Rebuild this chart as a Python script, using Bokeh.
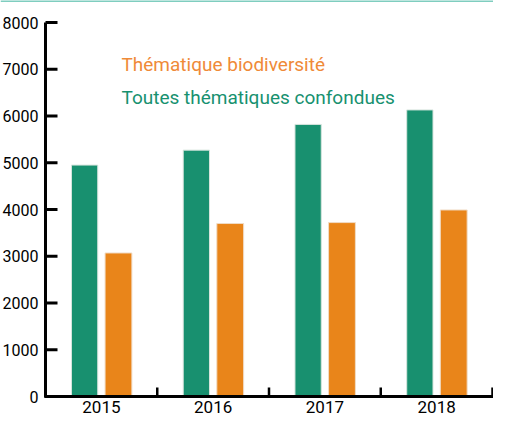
import numpy as np
from bokeh.plotting import figure
from bokeh.models import ColumnDataSource, Range1d, Label, Span
from bokeh.core.properties import value
from bokeh.embed import file_html
from bokeh.resources import INLINE

# ---- data ----
years = ["2015", "2016", "2017", "2018"]
toutes = [4950, 5270, 5820, 6130]      # Toutes thématiques confondues
biodiv = [3070, 3700, 3720, 3990]      # Thématique biodiversité
y_ticks = [0, 1000, 2000, 3000, 4000, 5000, 6000, 7000, 8000]
y_tick_labels = [str(v) for v in y_ticks]
legend_labels = ["Thématique biodiversité", "Toutes thématiques confondues"]

# ---- style ----
GREEN = "#18906f"
ORANGE = "#e9851a"
LEG_ORANGE = "#ef8a38"
LEG_GREEN = "#17916f"
TEAL_LINE = "#7fcdbf"
FONT = "Roboto"

W, H = 493, 423
AX_X = 45.0                      # canvas px of the y axis
CAT_PX = (492.0 - AX_X) / 4.0    # px per category
Y0 = 396.0                       # canvas px (from top) of value 0
TOP_PX = 22.0                    # canvas px of the top tick
PPU = (Y0 - TOP_PX) / 8000.0     # px per value unit

x_start = -AX_X / CAT_PX
x_end = (W - AX_X) / CAT_PX
y_start = -(H - Y0) / PPU
y_end = Y0 / PPU

p = figure(width=W, height=H, x_range=Range1d(x_start, x_end),
           y_range=Range1d(y_start, y_end), output_backend="svg",
           toolbar_location=None, x_axis_location=None, y_axis_location=None,
           min_border=0)
p.grid.visible = False
p.outline_line_color = None
p.background_fill_color = "white"
p.border_fill_color = "white"

idx = np.arange(len(years)) + 0.5
src = ColumnDataSource(dict(xg=idx - 0.15, xo=idx + 0.153, toutes=toutes,
                            biodiv=biodiv, years=years, xl=idx))

p.vbar(x="xg", top="toutes", bottom=0, width=0.235, source=src,
       fill_color=GREEN, line_color="#d6e4dd", line_width=1)
p.vbar(x="xo", top="biodiv", bottom=0, width=0.24, source=src,
       fill_color=ORANGE, line_color="#f0dcc6", line_width=1)

# axes drawn with the figure's scales
n = len(years)
p.segment(x0=[0], y0=[-1.0 / PPU], x1=[0], y1=[max(y_ticks)],
          line_color="black", line_width=3)
p.segment(x0=[0] * len(y_ticks), y0=y_ticks, x1=[12 / CAT_PX] * len(y_ticks),
          y1=y_ticks, line_color="black", line_width=3)
p.segment(x0=[-1.0 / CAT_PX], y0=[0], x1=[n + 0.01], y1=[0],
          line_color="black", line_width=3)
bx = list(range(1, n + 1))
p.segment(x0=bx, y0=[0] * n, x1=bx, y1=[9 / PPU] * n,
          line_color="black", line_width=2.5)

# tick labels
p.text(x=[-7 / CAT_PX] * len(y_ticks), y=y_ticks, text=y_tick_labels,
       text_align="right", text_baseline="middle", text_color="black",
       text_font=value(FONT), text_font_size="16px")
p.text(x="xl", y=-4.0 / PPU, text="years", source=src, text_align="center",
       text_baseline="top", text_color="black", text_font=value(FONT),
       text_font_size="17px")

# legend as coloured text
LEG_X = 0.68
p.add_layout(Label(x=LEG_X, y=7112, text=legend_labels[0],
                   text_color=LEG_ORANGE, text_font=FONT,
                   text_font_size="19px", text_baseline="alphabetic"))
p.add_layout(Label(x=LEG_X, y=6398, text=legend_labels[1],
                   text_color=LEG_GREEN, text_font=FONT,
                   text_font_size="19px", text_baseline="alphabetic"))

p.add_layout(Span(location=y_end, dimension="width", line_color=TEAL_LINE,
                  line_width=3))

open("out.html", "w").write(file_html(p, INLINE))
